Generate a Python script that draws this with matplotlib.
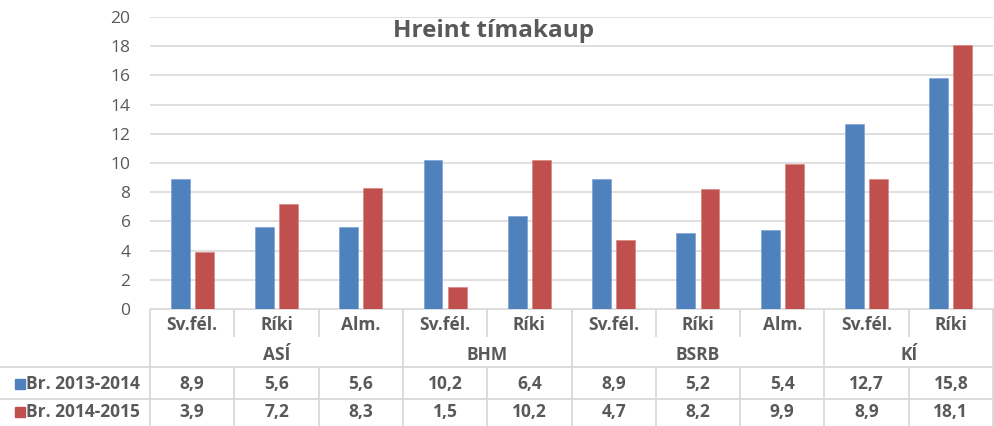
import matplotlib.pyplot as plt
from matplotlib.patches import Rectangle

plt.rcParams['font.family'] = ['Open Sans', 'DejaVu Sans']

groups = ['ASÍ', 'BHM', 'BSRB', 'KÍ']
group_sizes = [3, 2, 3, 2]
subcats = ['Sv.fél.', 'Ríki', 'Alm.', 'Sv.fél.', 'Ríki',
           'Sv.fél.', 'Ríki', 'Alm.', 'Sv.fél.', 'Ríki']
series_names = ['Br. 2013-2014', 'Br. 2014-2015']
vals_1314 = [8.9, 5.6, 5.6, 10.2, 6.4, 8.9, 5.2, 5.4, 12.7, 15.8]
vals_1415 = [3.9, 7.2, 8.3, 1.5, 10.2, 4.7, 8.2, 9.9, 8.9, 18.1]
colors = ['#4f81bd', '#c0504d']

W, H = 994, 426
txt = '#595959'
grid = '#d9d9d9'

fig = plt.figure(figsize=(W / 100, H / 100), dpi=100, facecolor='w')

# plot area in pixel terms
x0, x1 = 150, 993
y_top, y_zero = 17, 309
ax = fig.add_axes([x0 / W, 1 - y_zero / H, (x1 - x0) / W, (y_zero - y_top) / H])

n = len(subcats)
pos = list(range(n))
bw = 0.225
off = 0.143
ax.bar([p - off for p in pos], vals_1314, width=bw, color=colors[0],
       edgecolor='#7ea3d3', linewidth=0.5, zorder=3)
ax.bar([p + off for p in pos], vals_1415, width=bw, color=colors[1],
       edgecolor='#d98583', linewidth=0.5, zorder=3)

ax.set_xlim(-0.5, n - 0.5)
ax.set_ylim(0, 20)
ax.set_yticks(range(0, 21, 2))
ax.set_xticks([])
ax.tick_params(axis='y', length=0, pad=14, labelsize=12.5, labelcolor=txt)
ax.grid(axis='y', color=grid, linewidth=1.2, zorder=0)
for s in ['top', 'right', 'left', 'bottom']:
    ax.spines[s].set_visible(False)

fig.text(494 / W, 1 - 31 / H, 'Hreint tímakaup', ha='center', va='center',
         fontsize=17.5, fontweight='bold', color=txt)

# table drawn on an overlay in pixel coordinates
tb = fig.add_axes([0, 0, 1, 1], zorder=-1)
tb.set_xlim(0, W)
tb.set_ylim(H, 0)
tb.axis('off')

cw = (x1 - x0) / n
rows_y = [325, 355, 384, 412]
lw = 1.3
fs = 12.5

def hline(y, xa, xb):
    tb.plot([xa, xb], [y, y], color=grid, lw=lw, solid_capstyle='butt')

def vline(x, ya, yb):
    tb.plot([x, x], [ya, yb], color=grid, lw=lw, solid_capstyle='butt')

hline(y_zero, x0, W)
hline(367, 0, W)
hline(399, 0, W)
vline(x0, y_zero, H)

bounds = []
acc = 0
for g in group_sizes:
    acc += g
    bounds.append(acc)

for i in range(1, n + 1):
    x = x0 + i * cw
    if i in bounds:
        vline(x, y_zero, H)
    else:
        vline(x, y_zero, 337)
        vline(x, 367, H)

for i, lab in enumerate(subcats):
    xc = x0 + (i + 0.5) * cw
    tb.text(xc, rows_y[0], lab, ha='center', va='center', fontsize=fs,
            fontweight='bold', color=txt)
    tb.text(xc, rows_y[2], f'{vals_1314[i]:.1f}'.replace('.', ','),
            ha='center', va='center', fontsize=fs, fontweight='bold', color=txt)
    tb.text(xc, rows_y[3], f'{vals_1415[i]:.1f}'.replace('.', ','),
            ha='center', va='center', fontsize=fs, fontweight='bold', color=txt)

start = 0
for g, size in zip(groups, group_sizes):
    xc = x0 + (start + size / 2) * cw
    tb.text(xc, rows_y[1], g, ha='center', va='center', fontsize=fs,
            fontweight='bold', color=txt)
    start += size

for k, name in enumerate(series_names):
    y = rows_y[2 + k]
    tb.add_patch(Rectangle((15, y - 5), 10, 10, color=colors[k]))
    tb.text(26, y, name, ha='left', va='center', fontsize=fs,
            fontweight='bold', color=txt)

fig.savefig('out.png', dpi=100)
